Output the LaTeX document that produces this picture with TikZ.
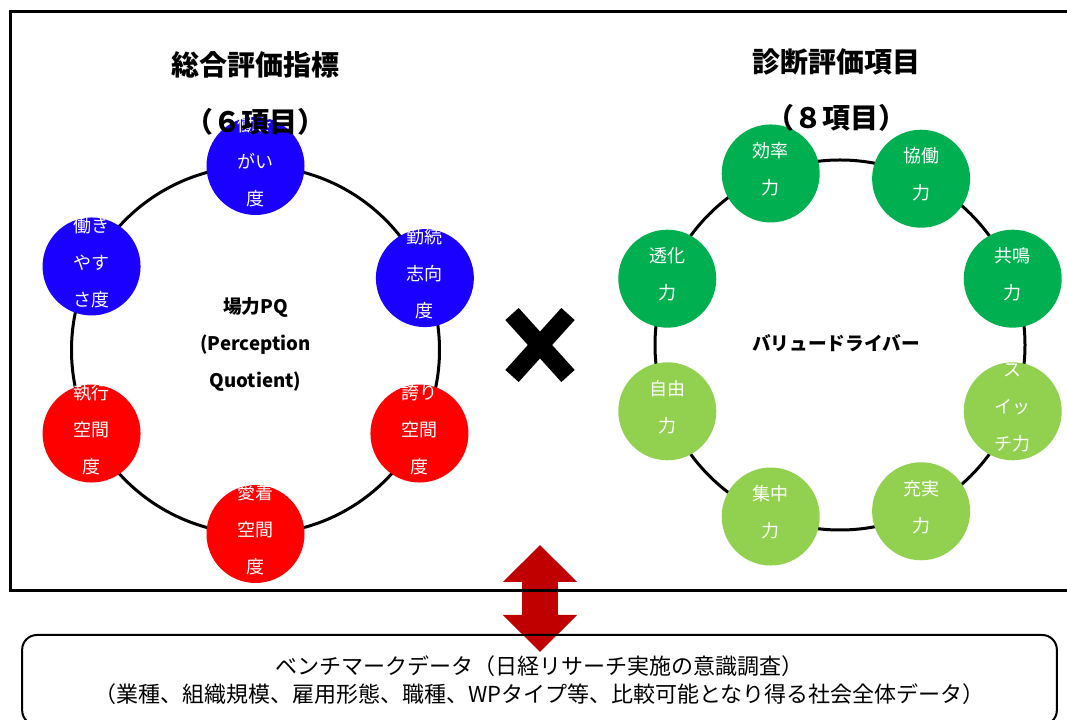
\documentclass[tikz,border=0pt]{standalone}
\usepackage{fontspec}
\setmainfont{Noto Sans CJK JP}
\usepackage{xcolor}
\usepackage{tikz}
\usetikzlibrary{arrows.meta,positioning,calc}
\definecolor{pqblue}{RGB}{26,0,255}
\definecolor{pqred}{RGB}{255,0,0}
\definecolor{vddark}{RGB}{0,176,80}
\definecolor{vdlight}{RGB}{146,208,80}
\definecolor{linkred}{RGB}{192,0,0}
\newcommand{\dotlines}[1]{\smash{\begin{tabular}{@{}c@{}}#1\end{tabular}}}

\begin{document}
\begin{tikzpicture}[x=0.75pt, y=0.75pt,
        dot/.style={circle, inner sep=0pt, minimum size=73.5pt, text=white,
            font=\fontsize{13.5}{27.75}\selectfont},
        ring/.style={line width=2.25pt},
        heading/.style={font=\bfseries\fontsize{21}{25}\selectfont},
        hub/.style={font=\bfseries\fontsize{14}{27.75}\selectfont, align=center}]
        \useasboundingbox (0,0) rectangle (1067,720);

        % link between both sides and the benchmark
        \coordinate (linktop) at (540,175);
        \coordinate (linkbot) at (540,68);
        \draw[linkred, line width=27pt,
            {Triangle[width=54pt,length=27.75pt]}-{Triangle[width=54pt,length=27.75pt]}]
            (linktop) -- (linkbot);

        \draw[line width=2.25pt] (10,129) rectangle (1075,708);

        % left: PQ ring
        \coordinate (pqc) at (255.5,370);
        \draw[ring] (pqc) circle[radius=184];
        \node[dot, fill=pqblue] (ikigai) at ($(pqc)+(90:184)$) {\dotlines{働き\\がい\\度}};
        \node[dot, fill=pqblue] (yasusa) at ($(pqc)+(153:184)$) {\dotlines{働き\\やす\\さ度}};
        \node[dot, fill=pqblue] (kinzoku) at ($(pqc)+(23:184)$) {\dotlines{勤続\\志向\\度}};
        \node[dot, fill=pqred] (shikko) at ($(pqc)+(207:184)$) {\dotlines{執行\\空間\\度}};
        \node[dot, fill=pqred] (hokori) at ($(pqc)+(333:184)$) {\dotlines{誇り\\空間\\度}};
        \node[dot, fill=pqred] (aichaku) at ($(pqc)+(270:184)$) {\dotlines{愛着\\空間\\度}};
        \node[hub] (pqhub) at ($(pqc)+(0,5)$) {場力PQ\\(Perception\\Quotient)};

        % right: value driver ring
        \coordinate (vdc) at (840,375);
        \draw[ring] (vdc) circle[radius=185];
        \node[dot, fill=vddark] (koritsu) at ($(vdc)+(112:185)$) {\dotlines{効率\\力}};
        \node[dot, fill=vddark] (kyodo) at ($(vdc)+(64:185)$) {\dotlines{協働\\力}};
        \node[dot, fill=vddark] (toka) at ($(vdc)+(159:185)$) {\dotlines{透化\\力}};
        \node[dot, fill=vddark] (kyomei) at ($(vdc)+(21:185)$) {\dotlines{共鳴\\力}};
        \node[dot, fill=vdlight] (jiyu) at ($(vdc)+(201:185)$) {\dotlines{自由\\力}};
        \node[dot, fill=vdlight] (switch) at ($(vdc)+(339:185)$) {\dotlines{ス\\イッ\\チ力}};
        \node[dot, fill=vdlight] (shuchu) at ($(vdc)+(248:185)$) {\dotlines{集中\\力}};
        \node[dot, fill=vdlight] (juzitsu) at ($(vdc)+(296:185)$) {\dotlines{充実\\力}};
        \node[hub] (vdhub) at (836,377) {バリュードライバー};

        % cross
        \draw[line width=13.5pt] (512,344) -- (568,406) (512,406) -- (568,344);

        \node[heading] (pqtitle) at (255.5,655) {総合評価指標};
        \node[heading] (pqcount) at (255.5,598) {（６項目）};
        \node[heading] (vdtitle) at (836,658) {診断評価項目};
        \node[heading] (vdcount) at (836,602) {（８項目）};

        \node[draw, line width=1.5pt, rounded corners=11pt, minimum width=776pt,
            minimum height=67.5pt, align=center, font=\fontsize{16.5}{21}\selectfont]
            (bench) at (539.5,40)
            {ベンチマークデータ（日経リサーチ実施の意識調査）\\（業種、組織規模、雇用形態、職種、WPタイプ等、比較可能となり得る社会全体データ）};
    \end{tikzpicture}
\end{document}
